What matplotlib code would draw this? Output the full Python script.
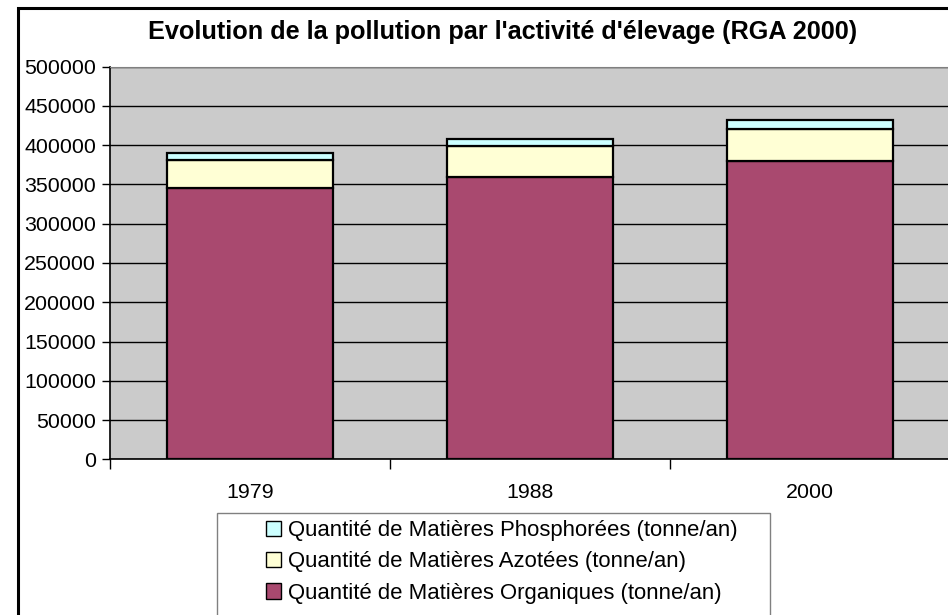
import numpy as np
import matplotlib.pyplot as plt
from matplotlib.patches import Rectangle, Patch

plt.rcParams['font.family'] = ['Liberation Sans', 'DejaVu Sans']

years = ['1979', '1988', '2000']
organiques = [345000, 359500, 380000]
azotees = [36000, 39500, 40500]
phosphorees = [9000, 9000, 11500]
labels = ['Quantité de Matières Organiques (tonne/an)',
          'Quantité de Matières Azotées (tonne/an)',
          'Quantité de Matières Phosphorées (tonne/an)']
colors = ['#A9496F', '#FFFFD5', '#CCFFFF']

fig = plt.figure(figsize=(9.48, 6.15), dpi=100)
ax = fig.add_axes([110/948, 1 - 459.3/615, 840/948, (459.3 - 66.7)/615])
ax.set_facecolor('#CBCBCB')

x = np.arange(len(years))
org = np.array(organiques)
az = np.array(azotees)
ph = np.array(phosphorees)
w = 0.593
ax.bar(x, org, w, color=colors[0], edgecolor='black', linewidth=1.6, zorder=3)
ax.bar(x, az, w, bottom=org, color=colors[1], edgecolor='black', linewidth=1.6, zorder=3)
ax.bar(x, ph, w, bottom=org + az, color=colors[2], edgecolor='black', linewidth=1.6, zorder=3)

ax.set_xlim(-0.5, 2.5)
ax.set_ylim(0, 500000)
ax.set_yticks(np.arange(0, 500001, 50000))
ax.yaxis.grid(True, color='black', linewidth=1)
ax.set_axisbelow(True)
ax.tick_params(axis='y', labelsize=15.4, length=6, width=1, direction='out', pad=4)

ax.set_xticks(x)
ax.set_xticklabels(years)
ax.set_xticks([-0.5, 0.5, 1.5], minor=True)
ax.tick_params(axis='x', which='major', length=0, labelsize=15.4, pad=17)
ax.tick_params(axis='x', which='minor', length=7, width=1, direction='out')

ax.spines['left'].set_color('black')
ax.spines['bottom'].set_color('black')
ax.spines['left'].set_linewidth(1.2)
ax.spines['bottom'].set_linewidth(1.2)
ax.spines['top'].set_color('#808080')
ax.spines['right'].set_visible(False)

fig.text(503/948, 1 - 32/615, "Evolution de la pollution par l'activité d'élevage (RGA 2000)",
         ha='center', va='center', fontsize=18.2, fontweight='bold')

# outer chart border
fig.patches.append(Rectangle((18/948, -0.05), 1.0, 1 - 8/615 + 0.05,
                             transform=fig.transFigure, fill=False,
                             edgecolor='black', linewidth=2.2))

# legend frame, running off the bottom of the picture
fig.patches.append(Rectangle((216.7/948, -0.05), (770 - 216.7)/948, 1 - 512.7/615 + 0.05,
                             transform=fig.transFigure, facecolor='white',
                             edgecolor='#808080', linewidth=1))

handles = [Patch(facecolor=colors[i], edgecolor='black', linewidth=1) for i in (2, 1, 0)]
leg = fig.legend(handles, [labels[i] for i in (2, 1, 0)],
                 loc='upper left', bbox_to_anchor=(266/948, 1 - 520/615),
                 fontsize=15.9, frameon=False,
                 handlelength=0.7, handleheight=0.7, handletextpad=0.3,
                 labelspacing=0.47, borderpad=0.0, borderaxespad=0)

fig.savefig('out.png', dpi=100)
